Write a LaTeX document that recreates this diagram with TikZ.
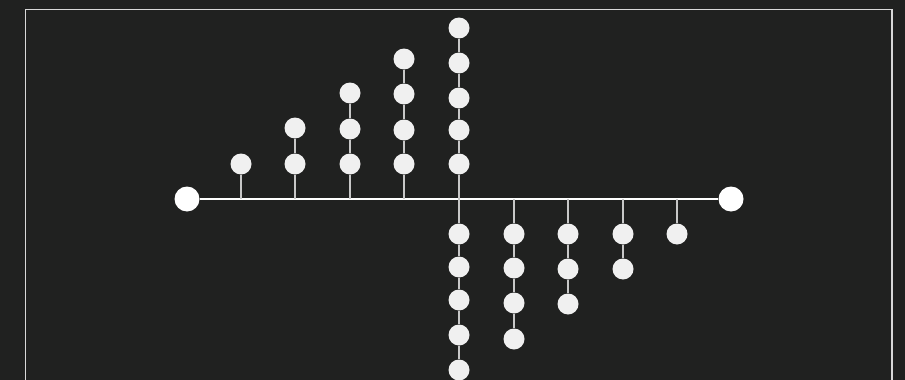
\documentclass[tikz,border=0pt]{standalone}
\definecolor{bg}{HTML}{202120}
\definecolor{dotfill}{HTML}{F0F0F0}
\definecolor{stem}{HTML}{C8C8C8}
\definecolor{frame}{HTML}{D8D8D8}
\begin{document}
\begin{tikzpicture}[x=1pt,y=-1pt,
  dot/.style={circle,fill=dotfill,minimum size=21pt,inner sep=0pt},
  enddot/.style={circle,fill=white,minimum size=25pt,inner sep=0pt},
  stemline/.style={draw=stem,line width=1.6pt},
  axisline/.style={draw=white,line width=1.6pt}]
\fill[bg] (0,0) rectangle (905,380);
\useasboundingbox (0,0) rectangle (905,380);
\clip (0,0) rectangle (905,380);
\draw[frame,line width=1.5pt] (25.5,9.5) rectangle (892,400);
% axis
\node[enddot] (L) at (187,199) {};
\node[enddot] (R) at (731,199) {};
\draw[axisline] (L) -- (R);
% base coordinates
\foreach \x/\n in {241/a,295/b,350/c,404/d,459/e,514/f,568/g,623/h,677/i}
  \coordinate (\n0) at (\x,199);
% upper columns
\node[dot] (a1) at (241,164) {};
\node[dot] (b1) at (295,164) {};
\node[dot] (b2) at (295,128) {};
\node[dot] (c1) at (350,164) {};
\node[dot] (c2) at (350,129) {};
\node[dot] (c3) at (350,93) {};
\node[dot] (d1) at (404,164) {};
\node[dot] (d2) at (404,130) {};
\node[dot] (d3) at (404,94) {};
\node[dot] (d4) at (404,59) {};
\node[dot] (e1) at (459,164) {};
\node[dot] (e2) at (459,130) {};
\node[dot] (e3) at (459,98) {};
\node[dot] (e4) at (459,63) {};
\node[dot] (e5) at (459,28) {};
% lower columns
\node[dot] (E1) at (459,234) {};
\node[dot] (E2) at (459,267) {};
\node[dot] (E3) at (459,300) {};
\node[dot] (E4) at (459,335) {};
\node[dot] (E5) at (459,370) {};
\node[dot] (f1) at (514,234) {};
\node[dot] (f2) at (514,268) {};
\node[dot] (f3) at (514,303) {};
\node[dot] (f4) at (514,339) {};
\node[dot] (g1) at (568,234) {};
\node[dot] (g2) at (568,269) {};
\node[dot] (g3) at (568,304) {};
\node[dot] (h1) at (623,234) {};
\node[dot] (h2) at (623,269) {};
\node[dot] (i1) at (677,234) {};
% stems
\draw[stemline] (a0) -- (a1);
\draw[stemline] (b0) -- (b1) (b1) -- (b2);
\draw[stemline] (c0) -- (c1) (c1) -- (c2) (c2) -- (c3);
\draw[stemline] (d0) -- (d1) (d1) -- (d2) (d2) -- (d3) (d3) -- (d4);
\draw[stemline] (e0) -- (e1) (e1) -- (e2) (e2) -- (e3) (e3) -- (e4) (e4) -- (e5);
\draw[stemline] (e0) -- (E1) (E1) -- (E2) (E2) -- (E3) (E3) -- (E4) (E4) -- (E5);
\draw[stemline] (f0) -- (f1) (f1) -- (f2) (f2) -- (f3) (f3) -- (f4);
\draw[stemline] (g0) -- (g1) (g1) -- (g2) (g2) -- (g3);
\draw[stemline] (h0) -- (h1) (h1) -- (h2);
\draw[stemline] (i0) -- (i1);
\end{tikzpicture}
\end{document}
